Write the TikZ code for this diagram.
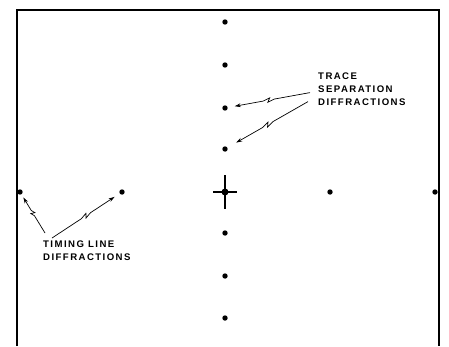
\documentclass[tikz,border=0pt]{standalone}
\usepackage{fontspec}
\setsansfont{Liberation Sans}
\usetikzlibrary{arrows.meta,calc}

\tikzset{
  spot/.style={circle,fill,inner sep=0pt,minimum size=5.4pt},
  note/.style={font=\sffamily\bfseries\fontsize{9.6}{13}\selectfont\addfontfeature{LetterSpace=15},
    align=left,anchor=north west,inner sep=0pt},
  pointer/.style={line width=0.7pt,-{Stealth[length=6pt,width=3.8pt]}},
  bolt/.style={to path={-- ($(\tikztostart)!0.42!(\tikztotarget)$)
    -- ($(\tikztostart)!0.5!(\tikztotarget)!2pt!90:(\tikztotarget)$)
    -- ($(\tikztostart)!0.47!(\tikztotarget)!2pt!-90:(\tikztotarget)$)
    -- ($(\tikztostart)!0.55!(\tikztotarget)$) -- (\tikztotarget)}},
}

\begin{document}
\begin{tikzpicture}[x=1pt,y=-1pt]
  \useasboundingbox (0,0) rectangle (449,346);
  % frame
  \draw[line width=2.2pt] (17,346) -- (17,10) -- (439,10) -- (439,346);
  % spots
  \foreach \n/\y in {v1/22,v2/65,v3/108,v4/149,v5/233,v6/276,v7/318}
    \node[spot] (\n) at (225,\y) {};
  \foreach \n/\x in {h1/20,h2/122,h4/330,h5/435}
    \node[spot] (\n) at (\x,192) {};
  \node[spot,minimum size=7pt] (c) at (225,192) {};
  \draw[line width=1.5pt] ([yshift=17pt]c.center) -- ([yshift=-17pt]c.center)
    ([xshift=-12pt]c.center) -- ([xshift=12pt]c.center);
  % labels
  \node[note] (trace) at (318,73) {TRACE\\SEPARATION\\DIFFRACTIONS};
  \node[note] (timing) at (43,241) {TIMING LINE\\DIFFRACTIONS};
  \draw[pointer,bolt,shorten >=7pt] ([xshift=-8pt,yshift=-3pt]trace.west) to (v3);
  \draw[pointer,bolt,shorten >=10pt] ([xshift=-10pt,yshift=-12pt]trace.west) to (v4);
  \draw[pointer,bolt,shorten >=3.5pt] ([shift={(2pt,8pt)}]timing.north west) to (h1);
  \draw[pointer,bolt,shorten >=6pt] ([shift={(9pt,3pt)}]timing.north west) to (h2);
\end{tikzpicture}
\end{document}
